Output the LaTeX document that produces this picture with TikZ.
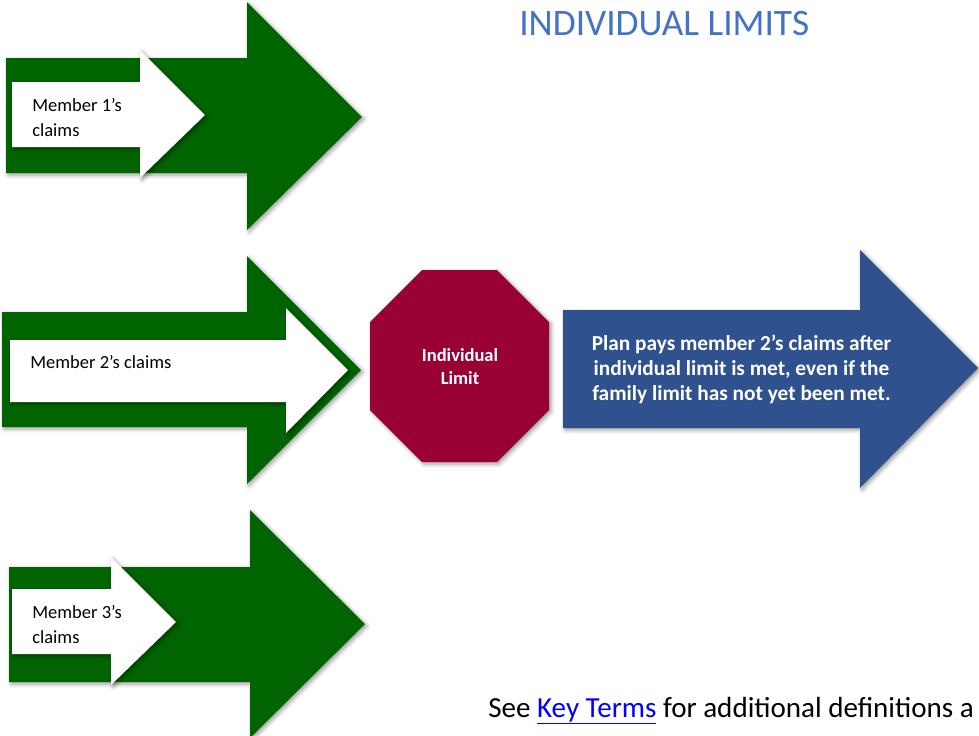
\documentclass[tikz,border=0pt]{standalone}
\usepackage{fontspec}
\setmainfont{Carlito}
\usetikzlibrary{shadows.blur}

\definecolor{claimgreen}{HTML}{006400}
\definecolor{limitred}{HTML}{990033}
\definecolor{paysblue}{HTML}{2F528F}
\definecolor{titleblue}{HTML}{4472C4}
\definecolor{linkblue}{HTML}{0000FF}

\tikzset{
  softshadow/.style={blur shadow={shadow xshift=1.5pt, shadow yshift=-1.5pt,
      shadow blur radius=3pt, shadow opacity=40}},
  greenarrow/.style={fill=claimgreen, softshadow},
  whitearrow/.style={fill=white, softshadow},
  stopsign/.style={fill=limitred, softshadow},
  bluearrow/.style={fill=paysblue, softshadow},
  claimtext/.style={inner sep=0pt, align=left, font=\fontsize{13.9}{18.75}\selectfont},
  boldtext/.style={inner sep=0pt, align=center, text=white,
      font=\fontsize{13.9}{17.25}\selectfont\bfseries},
}

\begin{document}
\begin{tikzpicture}[x=0.75pt, y=-0.75pt]
\useasboundingbox (0,0) rectangle (979,736);

% arrows
\fill [greenarrow] (6,58) -- (247,58) -- (247,2) -- (362,117) -- (247,230) -- (247,173) -- (6,173) -- cycle;
\fill [whitearrow] (12,82) -- (140,82) -- (140,50) -- (205,115) -- (140,178) -- (140,147) -- (12,147) -- cycle;

\fill [greenarrow] (2,312) -- (247,312) -- (247,256) -- (361,370) -- (247,484) -- (247,427) -- (2,427) -- cycle;
\fill [whitearrow] (10,340) -- (286,340) -- (286,308) -- (348,370) -- (286,433) -- (286,402) -- (10,402) -- cycle;

\fill [greenarrow] (9,567) -- (250,567) -- (250,510) -- (365,624) -- (250,738) -- (250,682) -- (9,682) -- cycle;
\fill [whitearrow] (12,589) -- (111,589) -- (111,557) -- (176,622) -- (111,685) -- (111,654) -- (12,654) -- cycle;

\fill [stopsign] (422,270) -- (497,270) -- (549,322) -- (549,410) -- (497,462) -- (422,462) -- (370,410) -- (370,322) -- cycle;

\fill [bluearrow] (563,310) -- (860,310) -- (860,250) -- (978,368) -- (860,488) -- (860,428) -- (563,428) -- cycle;

% texts
\node [claimtext, anchor=west] (M1) at (32,117.5) {Member 1’s\\claims};
\node [claimtext, anchor=west] (M2) at (30,362) {Member 2’s claims};
\node [claimtext, anchor=west] (M3) at (32,625) {Member 3’s\\claims};

\node [boldtext] (L) at (460,366.5) {Individual\\Limit};
\node [boldtext, font=\fontsize{16}{18.75}\selectfont\bfseries] (P) at (741.5,369.5)
  {Plan pays member 2’s claims after\\individual limit is met, even if the\\family limit has not yet been met.};

\node [inner sep=0pt, anchor=base west, text=titleblue, font=\fontsize{28}{32}\selectfont] (T) at (519,35) {INDIVIDUAL LIMITS};
\node [inner sep=0pt, anchor=base west, font=\fontsize{21.8}{25}\selectfont] (K) at (488,717)
  {See \textcolor{linkblue}{\underline{Key Terms}} for additional definitions a};
\end{tikzpicture}
\end{document}
